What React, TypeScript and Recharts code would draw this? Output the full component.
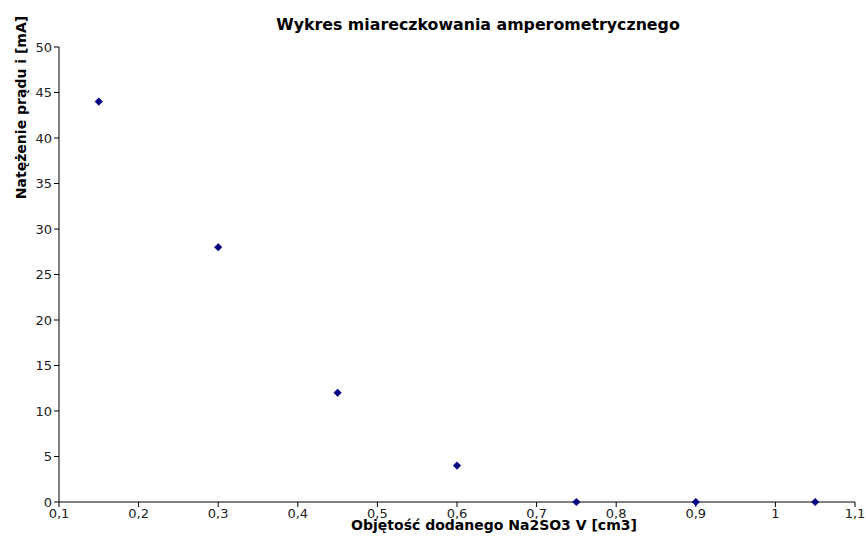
import { Label, Scatter, ScatterChart, XAxis, YAxis } from "recharts";

const volumes = [0.15, 0.3, 0.45, 0.6, 0.75, 0.9, 1.05];
const currents = [44, 28, 12, 4, 0, 0, 0];
const xTicks = [0.1, 0.2, 0.3, 0.4, 0.5, 0.6, 0.7, 0.8, 0.9, 1, 1.1];
const yTicks = [0, 5, 10, 15, 20, 25, 30, 35, 40, 45, 50];

const points = volumes.map((v, i) => ({ v, i: currents[i] }));

const fmt = (n: number) => String(Number(n.toFixed(2))).replace(".", ",");

const Diamond = (props: any) => {
  const { cx, cy } = props;
  const r = 3.8;
  return (
    <polygon
      points={`${cx},${cy - r} ${cx + r},${cy} ${cx},${cy + r} ${cx - r},${cy}`}
      fill="#000080"
      stroke="#000080"
      strokeWidth={0.5}
    />
  );
};

const tickStyle = { fill: "#222", fontSize: 13, fontFamily: "DejaVu Sans" };

export default function App() {
  return (
    <div
      style={{
        position: "absolute",
        left: 0,
        top: 0,
        width: 866,
        height: 548,
        background: "#fff",
        fontFamily: "DejaVu Sans",
      }}
    >
      <div
        style={{
          position: "absolute",
          top: 15,
          left: 0,
          width: 956,
          textAlign: "center",
          fontSize: 15.8,
          fontWeight: "bold",
          color: "#000",
        }}
      >
        Wykres miareczkowania amperometrycznego
      </div>
      <ScatterChart
        width={866}
        height={548}
        margin={{ top: 47, right: 11, bottom: 16, left: 0 }}
      >
        <XAxis
          type="number"
          dataKey="v"
          domain={[0.1, 1.1]}
          ticks={xTicks}
          tickFormatter={fmt}
          interval={0}
          height={30}
          stroke="#000"
          tickSize={5}
          tick={tickStyle}
          allowDataOverflow
        >
          <Label
            value="Objętość dodanego Na2SO3 V [cm3]"
            position="insideBottom"
            offset={2}
            dx={37}
            style={{ fontSize: 14, fontWeight: "bold", fill: "#000", fontFamily: "DejaVu Sans" }}
          />
        </XAxis>
        <YAxis
          type="number"
          dataKey="i"
          domain={[0, 50]}
          ticks={yTicks}
          interval={0}
          width={59}
          stroke="#000"
          tickSize={5}
          tick={tickStyle}
        >
          <Label
            value="Natężenie prądu i [mA]"
            angle={-90}
            position="insideLeft"
            offset={21}
            dy={-167}
            style={{
              fontSize: 14,
              fontWeight: "bold",
              fill: "#000",
              fontFamily: "DejaVu Sans",
              textAnchor: "middle",
            }}
          />
        </YAxis>
        <Scatter data={points} shape={<Diamond />} isAnimationActive={false} />
      </ScatterChart>
    </div>
  );
}
